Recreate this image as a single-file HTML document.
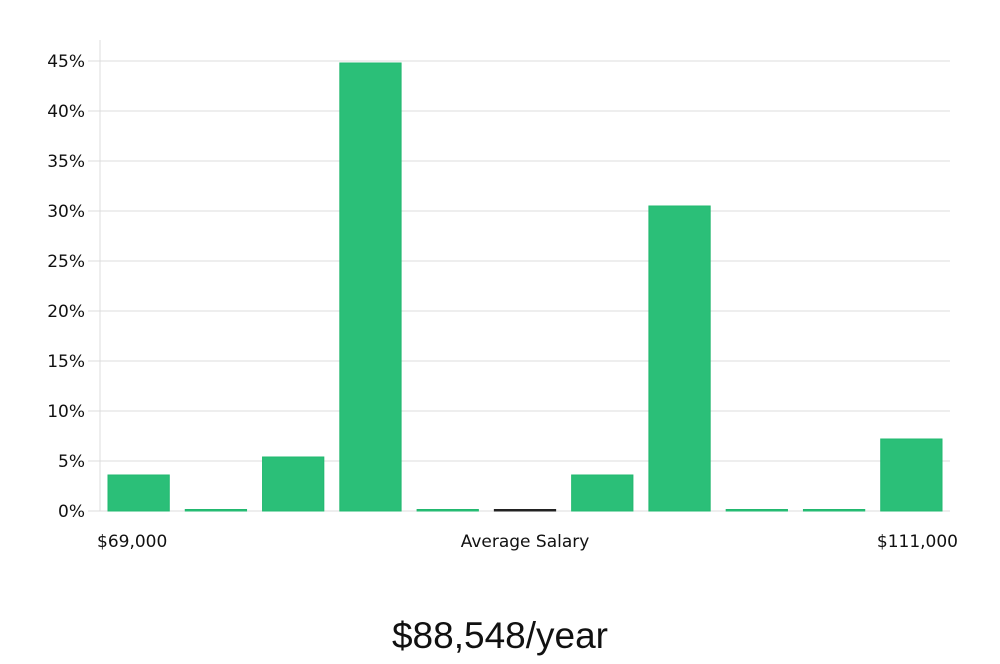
<!DOCTYPE html>
<html><head><meta charset="utf-8"><style>
body{margin:0;background:#fff;width:1000px;height:660px;overflow:hidden;font-family:"DejaVu Sans","Liberation Sans",sans-serif;}
</style></head><body>
<svg id="chart" width="1000" height="660" xmlns="http://www.w3.org/2000/svg"></svg>
<script>
const categories=["b1","b2","b3","b4","b5","b6","b7","b8","b9","b10","b11"];
const values=[3.6,0,5.4,44.8,0,0,3.6,30.5,0,0,7.2];
const yTicks=[0,5,10,15,20,25,30,35,40,45];
const xLabels=["$69,000","Average Salary","$111,000"];
const svg=document.getElementById('chart');
const NS="http://www.w3.org/2000/svg";
const L=100,R=950,T=40,B=511;
const y=v=>B-v*10;
const slot=(R-L)/categories.length;
function mk(t,a,txt){const e=document.createElementNS(NS,t);for(const k in a)e.setAttribute(k,a[k]);if(txt!==undefined)e.textContent=txt;svg.appendChild(e);return e;}
yTicks.forEach(v=>{
 const g=mk('line',{x1:88,x2:R,y1:y(v),y2:y(v),stroke:'#dcdcdc','stroke-width':1});
 
 
 const t=mk('text',{x:85,y:y(v)+6,'text-anchor':'end','font-size':17,fill:'#111'},v+'%');
 
 
});
const ax=mk('line',{x1:L,x2:L,y1:T,y2:B,stroke:'#dcdcdc'});


values.forEach((v,i)=>{
 const x0=L+i*slot+8,w=slot-16;
 const h=Math.max(v*10,1.5);
 const r=mk('rect',{x:x0,y:B-h,width:w,height:h,fill:i===5?'#222':'#2bbf78',stroke:i===5?'#222':'#22b86f','stroke-width':1});
 
 
});
const xl=[[97,'start'],[525,'middle'],[958,'end']];
xLabels.forEach((s,i)=>{
 const t=mk('text',{x:xl[i][0],y:547,'text-anchor':xl[i][1],'font-size':17,fill:'#111'},s);
 
 
});
const ti=mk('text',{x:500,y:648,'text-anchor':'middle','font-size':37,fill:'#111','font-family':'"Liberation Sans",sans-serif'},'$88,548/year');


</script>
</body></html>
